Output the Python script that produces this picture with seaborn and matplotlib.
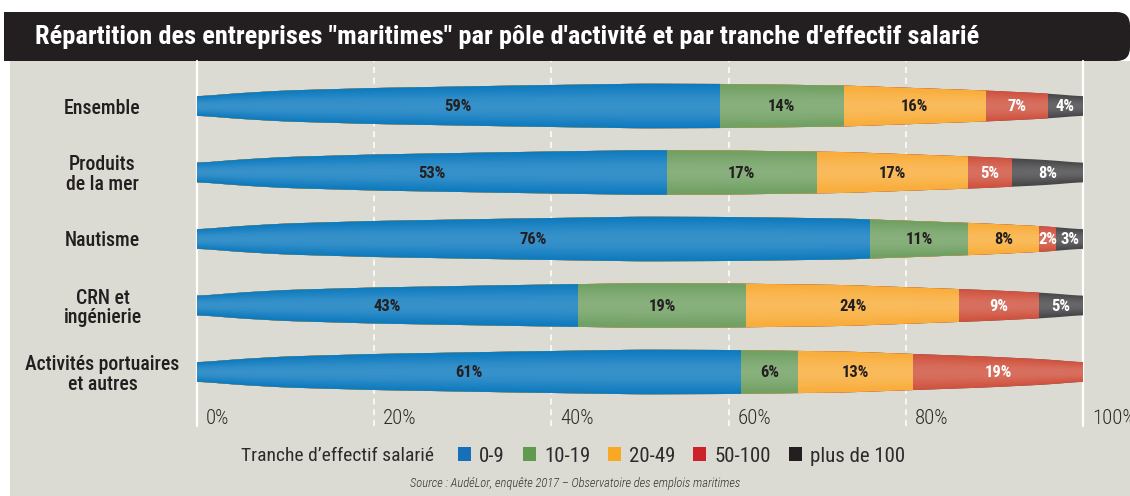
import numpy as np
import pandas as pd
import matplotlib
matplotlib.use("Agg")
import matplotlib.pyplot as plt
import seaborn as sns
from matplotlib.patches import Polygon, Rectangle, FancyBboxPatch

# ---------------- data ----------------
categories = ["Ensemble", "Produits\nde la mer", "Nautisme",
              "CRN et\ningénierie", "Activités portuaires\net autres"]
tranches = ["0-9", "10-19", "20-49", "50-100", "plus de 100"]
v_0_9 = [59, 53, 76, 43, 61.4]
v_10_19 = [14, 17, 11, 19, 6.4]
v_20_49 = [16, 17, 8, 24, 13.0]
v_50_100 = [7, 5, 2, 9, 19.2]
v_plus_100 = [4, 8, 3, 5, 0]
x_ticks = [0, 20, 40, 60, 80, 100]
x_tick_labels = ["0%", "20%", "40%", "60%", "80%", "100%"]

title = "Répartition des entreprises \"maritimes\" par pôle d'activité et par tranche d'effectif salarié"
legend_title = "Tranche d\u2019effectif salarié"
source = "Source : AudéLor, enquête 2017 \u2013 Observatoire des emplois maritimes"

# ---------------- style ----------------
bar_colors = ["#0f7bbf", "#70a062", "#f9ad3a", "#d0533f", "#48484a"]
legend_colors = ["#1570b8", "#5f9a4e", "#f8a824", "#cd2229", "#231f20"]
label_colors = ["#231f20", "#231f20", "#231f20", "white", "white"]
BG = "#dcdbd3"
# bar outline profile (half thickness in px along the bar, purely decorative)
shape_x = [0.0, 0.05, 0.10, 0.20, 0.35, 0.50, 0.60, 0.73, 0.89, 0.96, 1.0]
shape_h = [9.5, 13.0, 15.5, 18.0, 20.3, 22.3, 22.0, 20.5, 15.5, 12.5, 9.5]

sns.set_style("white")
FONT = ["Roboto Condensed", "DejaVu Sans"]
plt.rcParams["font.family"] = FONT

W, H = 1130, 496
fig = plt.figure(figsize=(W / 100, H / 100), dpi=100)
fig.patch.set_facecolor("white")

def fx(px):
    return px / W

def fy(py):
    return 1 - py / H

# beige panel and black title band
fig.patches.append(Rectangle((fx(10), 0), 1 - fx(10), fy(61), transform=fig.transFigure,
                             facecolor=BG, edgecolor="none", zorder=-2))
fig.patches.append(Rectangle((fx(4), fy(61)), fx(1110), fy(12) - fy(61), transform=fig.transFigure,
                             facecolor="#231f20", edgecolor="none", zorder=-1))
fig.patches.append(FancyBboxPatch((fx(1090), fy(61)), fx(1130) - fx(1090),
                                  fy(12) - fy(61),
                                  boxstyle="round,pad=0.0,rounding_size=0.012",
                                  transform=fig.transFigure, mutation_aspect=W / H,
                                  facecolor="#231f20", edgecolor="none", zorder=-1))
fig.text(fx(35), fy(37), title, color="white", fontsize=19, fontweight="bold",
         va="center", ha="left", zorder=2)

# axes
ax_left, ax_right, ax_top, ax_bottom = 197, 1083, 61, 426
ax = fig.add_axes([fx(ax_left), fy(ax_bottom), fx(ax_right - ax_left), (ax_bottom - ax_top) / H])
ax.set_facecolor("none")
ax.set_zorder(5)

# cumulative stacking
series = [v_0_9, v_10_19, v_20_49, v_50_100, v_plus_100]
df = pd.DataFrame({t: s for t, s in zip(tranches, series)}, index=categories)
cum = df.cumsum(axis=1)

row_px = 66.5
for k in range(len(tranches) - 1, -1, -1):
    d = pd.DataFrame({"cat": categories, "val": cum[tranches[k]].values / 100})
    sns.barplot(data=d, x="val", y="cat", order=categories, color=bar_colors[k],
                saturation=1, width=0.72, linewidth=0, errorbar=None, ax=ax, zorder=2)

ylim = (4 + (ax_bottom - 372) / row_px, -(106 - ax_top) / row_px)

# spindle-shaped outline for every bar (style only)
xs = np.linspace(0, 1, 400)
raw = np.interp(xs, shape_x, shape_h)
kern = np.ones(15) / 15
smooth = np.convolve(np.pad(raw, 7, mode="edge"), kern, mode="valid")
half = smooth / row_px
clips = []
for i in range(len(categories)):
    verts = np.concatenate([np.column_stack([xs, i - half]),
                            np.column_stack([xs[::-1], (i + half)[::-1]])])
    clips.append(Polygon(verts, closed=True, transform=ax.transData))

for p in ax.patches:
    i = int(round(p.get_y() + p.get_height() / 2))
    p.set_clip_path(clips[i])

# soft highlight along the middle of each bar
ny = 120
for i in range(len(categories)):
    yy = np.linspace(-0.36, 0.36, ny)[:, None]
    t = np.abs(yy) / half[None, :]
    img = np.zeros((ny, len(xs), 4))
    img[..., :3] = 1.0
    img[..., 3] = 0.17 * np.clip(1 - t ** 2, 0, 1) ** 1.5
    im = ax.imshow(img, extent=(0, 1, i + 0.36, i - 0.36), aspect="auto",
                   interpolation="bilinear", zorder=3)
    im.set_clip_path(clips[i])

ax.set_xlim(0, 1)
ax.set_ylim(*ylim)

# value labels
for i, cat in enumerate(categories):
    start = 0
    for k, t in enumerate(tranches):
        v = df.loc[cat, t]
        if v > 0:
            ax.text((start + v / 2) / 100, i + 0.01, f"{v:.0f}%", ha="center", va="center",
                    color=label_colors[k], fontsize=12, fontweight="bold", zorder=5)
        start += v

# grid lines and x tick labels
for xt, lab in zip(x_ticks, x_tick_labels):
    solid = xt in (0, 100)
    ax.axvline(xt / 100, color="white", lw=1.6 if solid else 1.1,
               ls="-" if solid else (0, (4, 3)), zorder=1, clip_on=False)
    ax.text(xt / 100 + 0.0102, (418 - 106) / row_px, lab, ha="left", va="center",
            fontsize=15, fontweight="light", color="#2b2b2b", zorder=5, clip_on=False)

# category labels
ax.set_yticks(range(len(categories)))
ax.set_yticklabels(categories, ha="center", multialignment="center",
                   fontsize=14.2, fontweight="medium", color="#231f20", linespacing=1.05)
ax.tick_params(axis="y", length=0, pad=(ax_left - 102.5) * 0.72)
ax.tick_params(axis="x", length=0, labelbottom=False)
ax.set_xlabel("")
ax.set_ylabel("")
for s in ax.spines.values():
    s.set_visible(False)
if ax.get_legend():
    ax.get_legend().remove()

# legend
fig.text(fx(241), fy(456), legend_title, ha="left", va="center", fontsize=14,
         color="#2b2b2b")
handles = [Rectangle((0, 0), 1, 1, facecolor=c, edgecolor="none") for c in legend_colors]
fig.legend(handles, tranches, loc="center left", bbox_to_anchor=(fx(458), fy(456)),
           ncol=5, frameon=False, fontsize=15, handlelength=0.62, handleheight=0.62,
           handletextpad=0.4, columnspacing=0.85, borderaxespad=0, borderpad=0,
           labelcolor="#2b2b2b")

fig.text(fx(575), fy(484), source, ha="center", va="center", fontsize=9,
         style="italic", fontweight="light", color="#333333")

fig.savefig("out.png", dpi=100, facecolor="white")
